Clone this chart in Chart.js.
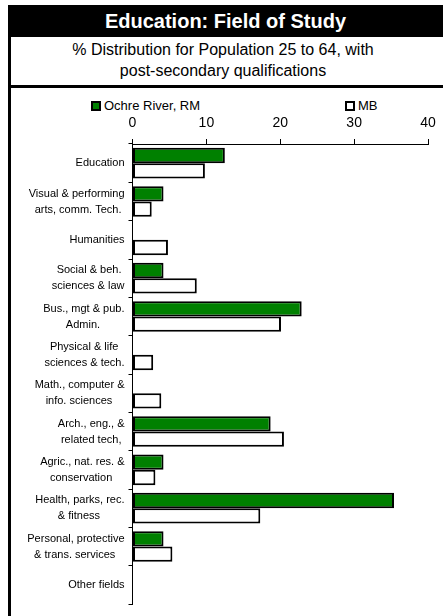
<!DOCTYPE html>
<html>
<head>
<meta charset="utf-8">
<script src="https://cdn.jsdelivr.net/npm/chart.js@4/dist/chart.umd.min.js"></script>
<style>
  html, body { margin: 0; padding: 0; background: #fff; }
  body { width: 443px; height: 616px; position: relative; overflow: hidden; font-family: "Liberation Sans", Arial, sans-serif; }
  #band { position: absolute; left: 8px; top: 5px; width: 435px; height: 32px; background: #000; color: #fff; font-weight: bold; font-size: 20px; line-height: 32px; text-align: center; }
  #leftBorder { position: absolute; left: 8px; top: 5px; width: 3px; height: 611px; background: #000; }
  #sub { position: absolute; left: 11px; top: 39px; width: 424px; text-align: center; font-size: 16px; line-height: 21px; color: #000; }
  #rule { position: absolute; left: 8px; top: 85px; width: 435px; height: 3px; background: #000; }
  #legend { position: absolute; top: 98px; left: 0; width: 443px; height: 16px; font-size: 13px; color: #000; }
  .item { position: absolute; top: 0; line-height: 16px; white-space: nowrap; }
  .box { display: inline-block; width: 6px; height: 6px; border: 2px solid #000; vertical-align: -1px; margin-right: 3px; }
  #wrap { position: absolute; left: 11px; top: 112px; width: 432px; height: 504px; }
</style>
</head>
<body>
<div id="band">Education: Field of Study</div>
<div id="leftBorder"></div>
<div id="sub">% Distribution for Population 25 to 64, with<br>post-secondary qualifications</div>
<div id="rule"></div>
<div id="legend">
  <span class="item" style="left:91px"><span class="box" id="box0"></span><span id="lab0"></span></span>
  <span class="item" style="left:345px"><span class="box" id="box1"></span><span id="lab1"></span></span>
</div>
<div id="wrap"><canvas id="c"></canvas></div>
<script>
const categories = [
  "Education",
  ["Visual & performing", "arts, comm. Tech."],
  "Humanities",
  ["Social & beh.", "sciences & law"],
  ["Bus., mgt & pub.", "Admin."],
  ["Physical & life", "sciences & tech."],
  ["Math., computer &", "info. sciences"],
  ["Arch., eng., &", "related tech,"],
  ["Agric., nat. res. &", "conservation"],
  ["Health, parks, rec.", "& fitness"],
  ["Personal, protective", "& trans. services"],
  "Other fields"
];
const seriesNames = ["Ochre River, RM", "MB"];
const ochreRiver = [12.5, 4.2, 0, 4.2, 22.9, 0, 0, 18.7, 4.2, 35.4, 4.2, 0];
const manitoba   = [9.8, 2.6, 4.8, 8.7, 20.1, 2.8, 3.9, 20.5, 3.1, 17.3, 5.4, 0];
const xTicks = [0, 10, 20, 30, 40];

const colors = ["#008000", "#ffffff"];

// HTML legend from series names / colours
seriesNames.forEach((n, i) => {
  document.getElementById("lab" + i).textContent = n;
  document.getElementById("box" + i).style.background = colors[i];
});

// centre each line of a multi-line label within its (right-aligned) block
const mctx = document.createElement("canvas").getContext("2d");
mctx.font = "11px 'Liberation Sans'";
const spaceW = mctx.measureText(" ").width;
function centreLines(lbl) {
  if (!Array.isArray(lbl)) return lbl;
  const ws = lbl.map(s => mctx.measureText(s).width);
  const maxW = Math.max(...ws);
  return lbl.map((s, i) => s + " ".repeat(Math.round((maxW - ws[i]) / 2 / spaceW)));
}

new Chart(document.getElementById("c"), {
  type: "bar",
  data: {
    labels: categories,
    datasets: [
      { label: seriesNames[0], data: ochreRiver, backgroundColor: colors[0], borderColor: "#000", borderWidth: 2, borderSkipped: false },
      { label: seriesNames[1], data: manitoba, backgroundColor: colors[1], borderColor: "#000", borderWidth: 2, borderSkipped: false }
    ]
  },
  options: {
    indexAxis: "y",
    responsive: true,
    maintainAspectRatio: false,
    animation: false,
    layout: { padding: { top: 0, bottom: 8, left: 0, right: 15 } },
    datasets: { bar: { categoryPercentage: 0.8, barPercentage: 1.0 } },
    plugins: { legend: { display: false }, title: { display: false }, tooltip: { enabled: false } },
    scales: {
      x: {
        position: "top",
        min: 0, max: 40,
        afterBuildTicks: s => { s.ticks = xTicks.map(v => ({ value: v })); },
        afterFit: s => { s.height = 32; },
        ticks: { color: "#000", font: { family: "'Liberation Sans'", size: 14 }, padding: 7, maxRotation: 0 },
        grid: { drawOnChartArea: false, drawTicks: true, tickLength: 5, color: "#000", lineWidth: 1 },
        border: { display: true, color: "#000", width: 1 }
      },
      y: {
        afterFit: s => { s.width = 121.5; },
        ticks: {
          color: "#000",
          font: { family: "'Liberation Sans'", size: 11, lineHeight: "16px" },
          padding: 4,
          autoSkip: false,
          callback: function (v, i) { return centreLines(categories[i]); }
        },
        grid: { offset: true, drawOnChartArea: false, drawTicks: true, tickLength: 4, color: "#000", lineWidth: 1 },
        border: { display: true, color: "#000", width: 1 }
      }
    }
  }
});
</script>
</body>
</html>
